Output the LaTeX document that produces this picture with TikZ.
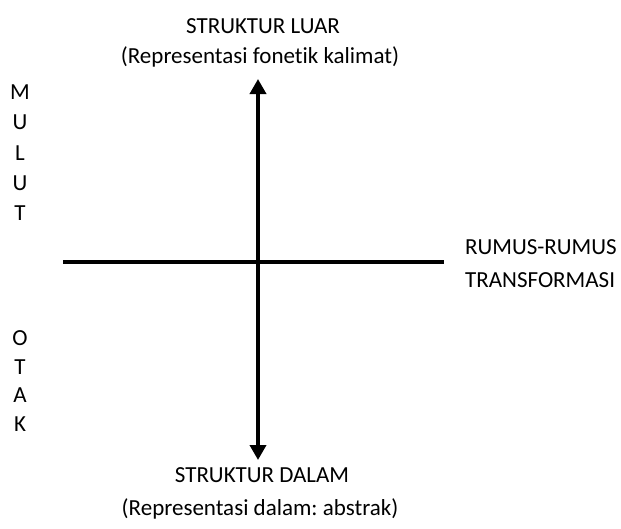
\documentclass[tikz,border=0pt]{standalone}
\usepackage{fontspec}
\setmainfont{Carlito}[Ligatures=NoCommon]
\usetikzlibrary{arrows.meta}
\frenchspacing
\begin{document}
\begin{tikzpicture}[x=1pt, y=-1pt, line cap=butt,
        sumbu/.style={line width=3.6pt, black},
        label/.style={font=\fontsize{23}{27}\selectfont, inner sep=0pt, anchor=base},
        huruf/.style={font=\fontsize{23}{27}\selectfont, inner sep=0pt}]
        \useasboundingbox (0, 0) rectangle (621, 528);
        \pgfmathsetmacro{\xc}{258}
        \pgfmathsetmacro{\yc}{262}
        \coordinate (atas)  at (\xc, 79);
        \coordinate (bawah) at (\xc, 460);
        \coordinate (kiri)  at (63, \yc);
        \coordinate (kanan) at (444, \yc);
        \draw[sumbu, {Triangle[length=15pt, width=16pt]}-{Triangle[length=15pt, width=16pt]}] (bawah) -- (atas);
        \draw[sumbu] (kiri) -- (kanan);
        \node[label] (luar)    at (263, 33) {STRUKTUR LUAR};
        \node[label] (luarket) at (260, 63) {(Representasi fonetik kalimat)};
        \node[label] (dalam)    at (262, 482) {STRUKTUR DALAM};
        \node[label] (dalamket) at (260, 515) {(Representasi dalam: abstrak)};
        \node[label, anchor=base west] (rumus)  at (465, 254) {RUMUS-RUMUS};
        \node[label, anchor=base west] (transf) at (465, 287) {TRANSFORMASI};
        \foreach \h [count=\i] in {M,U,L,U,T} { \node[huruf] (mulut\i) at (20, {92+30.4*(\i-1)}) {\h}; }
        \foreach \h [count=\i] in {O,T,A,K}   { \node[huruf] (otak\i)  at (20, {338+28.7*(\i-1)}) {\h}; }
    \end{tikzpicture}
\end{document}
